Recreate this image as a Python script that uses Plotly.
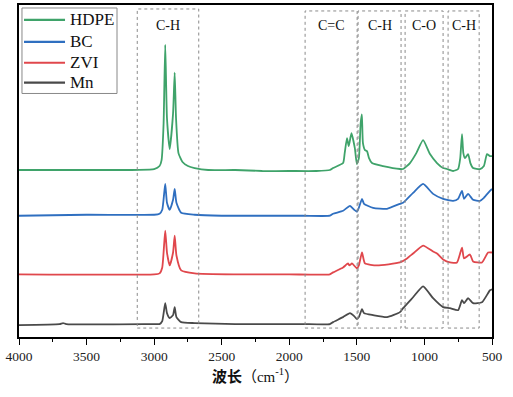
import plotly.graph_objects as go

# Wavenumbers (cm^-1) and offset intensities (arbitrary units)
hdpe_wn = [4000, 3500, 3000, 2960, 2945, 2930, 2918, 2905, 2885, 2860, 2848, 2838, 2820, 2790, 2750, 2700,
           2600, 2400, 2200, 2000, 1800, 1700, 1676, 1602, 1590, 1573, 1560, 1540, 1515, 1500, 1485, 1472,
           1463, 1455, 1440, 1425, 1410, 1388, 1306, 1181, 1158, 1107, 1060, 1010, 959, 907, 862, 833, 788,
           751, 735, 722, 712, 700, 677, 660, 640, 589, 560, 537, 515, 500]
hdpe_i = [168, 168, 169, 172, 178, 215, 294, 220, 189, 225, 266, 220, 185, 176, 172, 170,
          168, 168, 167, 167, 167, 168, 170, 175, 185, 200, 192, 205, 190, 174, 180, 215,
          224, 195, 188, 187, 180, 175, 172, 169, 169, 175, 185, 198, 184, 175, 170, 169, 167,
          169, 180, 204, 185, 180, 184, 175, 170, 169, 172, 184, 182, 182]

bc_wn = [4000, 3500, 3000, 2960, 2940, 2918, 2905, 2885, 2860, 2848, 2835, 2800, 2700, 2500, 2200, 1900,
         1700, 1676, 1602, 1551, 1520, 1499, 1485, 1462, 1447, 1380, 1277, 1181, 1158, 1084, 1010, 936,
         862, 788, 751, 722, 707, 677, 640, 589, 560, 515, 500]
bc_i = [122, 123, 123, 124, 128, 154, 135, 128, 138, 149, 135, 125, 123, 122, 122, 122,
        122, 124, 127, 132, 128, 126, 130, 139, 134, 130, 129, 134, 135, 145, 154, 144,
        139, 137, 139, 147, 139, 144, 138, 137, 140, 147, 149]

zvi_wn = [4000, 3000, 2960, 2940, 2918, 2905, 2885, 2860, 2848, 2835, 2800, 2700, 2400, 2000, 1700, 1676,
          1602, 1565, 1555, 1536, 1499, 1485, 1462, 1440, 1351, 1181, 1129, 1084, 1010, 936, 907, 862,
          811, 759, 722, 707, 663, 640, 574, 529, 500]
zvi_i = [63, 63, 64, 70, 107, 85, 72, 85, 102, 82, 67, 64, 63, 63, 63, 65,
         70, 74, 72, 74, 69, 72, 85, 74, 72, 75, 79, 84, 92, 86, 84, 78,
         75, 75, 90, 79, 83, 76, 75, 85, 85]

mn_wn = [4000, 3700, 3674, 3650, 3000, 2960, 2940, 2918, 2905, 2885, 2860, 2848, 2835, 2800, 2700, 2400,
         2200, 2100, 1900, 1700, 1676, 1602, 1551, 1520, 1499, 1485, 1462, 1447, 1380, 1277, 1181, 1158,
         1084, 1010, 936, 862, 811, 751, 722, 707, 677, 640, 574, 515, 500]
mn_i = [12, 13, 14, 13, 13, 13, 16, 34, 24, 19, 22, 30, 20, 15, 14, 13,
        13, 13, 13, 13, 15, 20, 24, 21, 18, 20, 28, 24, 22, 20, 25, 29,
        40, 51, 39, 30, 29, 27, 37, 34, 39, 34, 35, 47, 48]

series_names = ["HDPE", "BC", "ZVI", "Mn"]
series_colors = ["#3fa36a", "#2f6fc0", "#e0474c", "#4a4a4a"]

# Band regions (cm^-1) and labels
band_lo = [2670, 1498, 1173, 862, 595]
band_hi = [3125, 1883, 1491, 1143, 825]
band_labels = ["C-H", "C=C", "C-H", "C-O", "C-H"]

x_ticks = [4000, 3500, 3000, 2500, 2000, 1500, 1000, 500]

fig = go.Figure()
for name, wn, vals, col in zip(series_names, [hdpe_wn, bc_wn, zvi_wn, mn_wn],
                               [hdpe_i, bc_i, zvi_i, mn_i], series_colors):
    fig.add_trace(go.Scatter(x=wn, y=vals, mode="lines", name=name, showlegend=False,
                             line=dict(color=col, width=1.8, shape="spline", smoothing=0.5)))

for k, (lo, hi, lab) in enumerate(zip(band_lo, band_hi, band_labels)):
    top = 330 if k == 0 else 328
    fig.add_shape(type="rect", x0=hi, x1=lo, y0=9, y1=top, xref="x", yref="y",
                  line=dict(color="#8a8a8a", width=1, dash="dot"), fillcolor="rgba(0,0,0,0)")
    fig.add_annotation(x=(lo + hi) / 2, y=313, text=lab, showarrow=False, xref="x", yref="y",
                       font=dict(family="Liberation Serif", size=14, color="#111111"))

# Legend box drawn in paper coordinates (compact spacing as in the reference)
fig.add_shape(type="rect", xref="paper", yref="paper", x0=0.0063, x1=0.2072, y0=0.7335, y1=0.991,
              line=dict(color="#888888", width=1), fillcolor="white", layer="above")
leg_y = [0.955, 0.889, 0.826, 0.766]
for name, col, yy in zip(series_names, series_colors, leg_y):
    fig.add_shape(type="line", xref="paper", yref="paper", x0=0.0106, x1=0.0973, y0=yy, y1=yy,
                  line=dict(color=col, width=2.2), layer="above")
    fig.add_annotation(xref="paper", yref="paper", x=0.1036, y=yy, text=name, showarrow=False,
                       xanchor="left", yanchor="middle",
                       font=dict(family="Liberation Serif", size=17, color="#111111"))

fig.update_layout(
    width=513, height=397,
    margin=dict(l=19, r=21, t=3, b=60),
    paper_bgcolor="white", plot_bgcolor="white",
    showlegend=False,
    xaxis=dict(range=[4000, 500], tickvals=x_ticks, ticks="outside", ticklen=6, tickwidth=1.2,
               tickcolor="black", showline=True, linecolor="black", linewidth=1.6, mirror=True,
               showgrid=False, zeroline=False,
               minor=dict(dtick=250, ticks="outside", ticklen=3, tickcolor="black"),
               tickfont=dict(family="Liberation Serif", size=13.5, color="#222222"),
               title=dict(text="<b>波长</b>（cm<sup>-1</sup>）", standoff=8,
                          font=dict(family="Liberation Serif, Noto Sans CJK SC", size=15, color="#111111"))),
    yaxis=dict(range=[0, 334], showticklabels=False, ticks="", showline=True, linecolor="black",
               linewidth=1.6, mirror=True, showgrid=False, zeroline=False),
)

fig.write_html("out.html", config={"displayModeBar": False},
               post_script="document.body.style.margin='0';document.body.style.overflow='hidden';")
